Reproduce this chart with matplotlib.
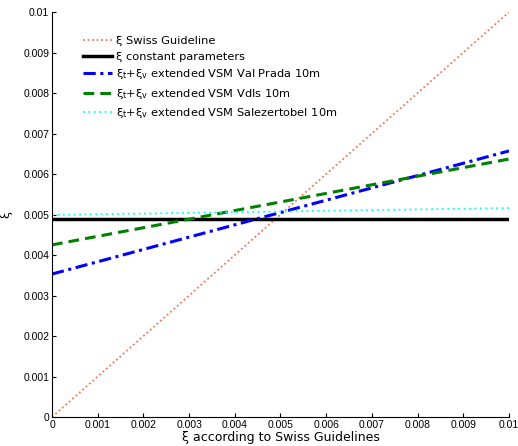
import numpy as np
import matplotlib.pyplot as plt

# values (lines are straight, so two points each)
x_guideline = [0.0, 0.01]
xi_swiss = [0.0, 0.01]
xi_const = [0.00489, 0.00489]
xi_valprada = [0.00353, 0.00657]
xi_vdls = [0.00425, 0.00637]
xi_salez = [0.00499, 0.00516]

labels = [
    r"ξ Swiss Guideline",
    r"ξ constant parameters",
    r"ξ$_{\rm t}$+ξ$_{\rm v}$ extended VSM Val Prada 10m",
    r"ξ$_{\rm t}$+ξ$_{\rm v}$ extended VSM Vdls 10m",
    r"ξ$_{\rm t}$+ξ$_{\rm v}$ extended VSM Salezertobel 10m",
]

ticks = np.arange(0, 0.0101, 0.001)
tick_labels = ["0", "0.001", "0.002", "0.003", "0.004", "0.005",
               "0.006", "0.007", "0.008", "0.009", "0.01"]

fig = plt.figure(figsize=(5.18, 4.46), dpi=100)
ax = fig.add_axes([0.1004, 0.065, 0.8822, 0.908])

ax.plot(x_guideline, xi_swiss, color="#f0785a", linestyle=(0, (1, 1.5)), lw=1.3, label=labels[0])
ax.plot(x_guideline, xi_const, color="black", linestyle="-", lw=2.5, label=labels[1])
ax.plot(x_guideline, xi_valprada, color="blue", linestyle=(0, (4, 1.5, 1, 1.5)), lw=2.2, label=labels[2])
ax.plot(x_guideline, xi_vdls, color="green", linestyle=(0, (3.5, 2)), lw=2.2, label=labels[3])
ax.plot(x_guideline, xi_salez, color="cyan", linestyle=(0, (1, 2)), lw=1.3, label=labels[4])

ax.set_xlim(0, 0.01)
ax.set_ylim(0, 0.01)
ax.set_xticks(ticks)
ax.set_xticklabels(tick_labels, family="Liberation Sans")
ax.set_yticks(ticks)
ax.set_yticklabels(tick_labels, family="Liberation Sans")
ax.tick_params(direction="in", length=3, labelsize=7.5, pad=2)

ax.spines["top"].set_visible(False)
ax.spines["right"].set_visible(False)

ax.set_xlabel("ξ according to Swiss Guidelines", fontsize=9, labelpad=1)
ax.set_ylabel("ξ", fontsize=9, labelpad=8)

ax.legend(loc="upper left", bbox_to_anchor=(0.045, 0.965), frameon=False,
          fontsize=8.2, handlelength=2.6, handletextpad=0.3, labelspacing=0.48)

fig.savefig("out.png", dpi=100)
